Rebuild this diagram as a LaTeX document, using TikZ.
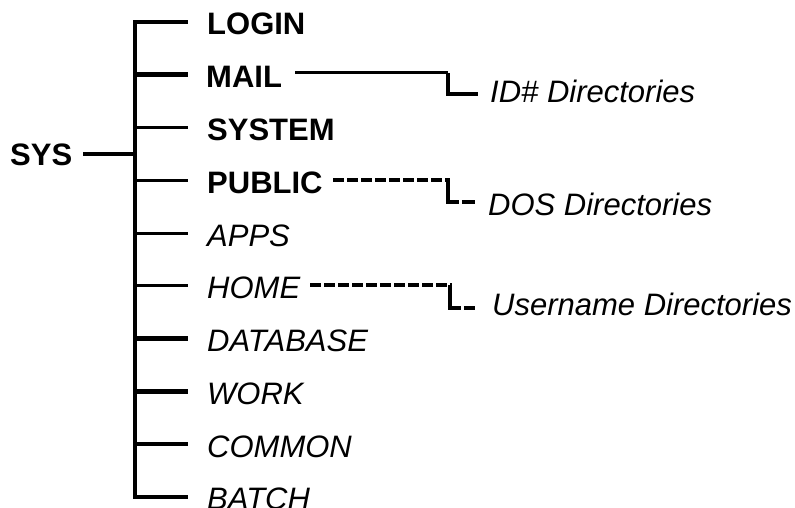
\documentclass[tikz,border=0pt]{standalone}
\usepackage{fontspec}
\setmainfont{Liberation Sans}
\begin{document}
\begin{tikzpicture}[x=1pt,y=-1pt,
  lbl/.style={inner sep=0pt,anchor=base west,font=\fontsize{31}{37}\selectfont},
  boldlbl/.style={lbl,font=\fontsize{31}{37}\selectfont\bfseries},
  itlbl/.style={lbl,font=\fontsize{31}{37}\selectfont\itshape},
  thickline/.style={line width=4.5pt},
  thinline/.style={line width=3pt},
  trunkline/.style={line width=4.5pt,line cap=rect},
  dashline/.style={line width=4pt,dash pattern=on 11pt off 3pt},
  footline/.style={line width=4pt,dash pattern=on 13pt off 3pt},
  elbow/.style={line width=4.5pt}]
\useasboundingbox (0,0) rectangle (795,508);

% root
\node[boldlbl] (sys) at (10,165) {SYS};
\coordinate (sysend) at (83,154);
\coordinate (sysj) at (135,154);

% trunk junctions
\coordinate (j1) at (135,22);
\coordinate (j2) at (135,74.75);
\coordinate (j3) at (135,127.5);
\coordinate (j4) at (135,180.25);
\coordinate (j5) at (135,233);
\coordinate (j6) at (135,285.75);
\coordinate (j7) at (135,338.5);
\coordinate (j8) at (135,391.25);
\coordinate (j9) at (135,444);
\coordinate (j10) at (135,496.75);

% labels
\node[boldlbl] (login)  at (207,35)     {LOGIN};
\node[boldlbl] (mail)   at (206,87.75)  {MAIL};
\node[boldlbl] (system) at (207,140.5)  {SYSTEM};
\node[boldlbl] (public) at (207,193.25) {PUBLIC};
\node[itlbl]   (apps)   at (207,246)    {APPS};
\node[itlbl]   (home)   at (207,298.75) {HOME};
\node[itlbl]   (database) at (207,351.5) {DATABASE};
\node[itlbl]   (work)   at (207,404.25) {WORK};
\node[itlbl]   (common) at (207,457)    {COMMON};
\node[itlbl]   (batch)  at (207,509.75) {BATCH};

% branch ends
\coordinate (e1) at (188,22);
\coordinate (e2) at (188,74.75);
\coordinate (e3) at (188,127.5);
\coordinate (e4) at (188,180.25);
\coordinate (e5) at (188,233);
\coordinate (e6) at (188,285.75);
\coordinate (e7) at (188,338.5);
\coordinate (e8) at (188,391.25);
\coordinate (e9) at (188,444);
\coordinate (e10) at (188,496.75);

% trunk and root link
\draw[trunkline] (j1) -- (j10);
\draw[thickline] (sysend) -- (sysj);

% branches
\draw[thickline] (j1) -- (e1);
\draw[thickline] (j2) -- (e2);
\draw[thinline]  (j3) -- (e3);
\draw[thinline]  (j4) -- (e4);
\draw[thinline]  (j5) -- (e5);
\draw[thinline]  (j6) -- (e6);
\draw[thickline] (j7) -- (e7);
\draw[thickline] (j8) -- (e8);
\draw[thickline] (j9) -- (e9);
\draw[thickline] (j10) -- (e10);

% sub-directory labels
\node[itlbl] (iddir)   at (490,103) {ID\# Directories};
\node[itlbl] (dosdir)  at (488,215) {DOS Directories};
\node[itlbl] (userdir) at (492,315) {Username Directories};

% MAIL connector
\coordinate (ma) at (295,73);
\coordinate (mb) at (448,73);
\coordinate (mc) at (448,94);
\coordinate (md) at (478,94);
\draw[thinline] (ma) -- (mb);
\draw[elbow] (mb) -- (mc) -- (md);

% PUBLIC connector
\coordinate (pa) at (333,180);
\coordinate (pb) at (448,180);
\coordinate (pc) at (448,202);
\coordinate (pd) at (477,202);
\draw[dashline] (pa) -- ([xshift=2pt]pb);
\draw[elbow] (pb) -- (pc);
\draw[footline] ([xshift=-2.25pt]pc) -- (pd);

% HOME connector
\coordinate (ha) at (310,285);
\coordinate (hb) at (450,285);
\coordinate (hc) at (450,308);
\coordinate (hd) at (475,308);
\draw[dashline] (ha) -- ([xshift=2pt]hb);
\draw[elbow] (hb) -- (hc);
\draw[footline] ([xshift=-2.25pt]hc) -- (hd);
\end{tikzpicture}
\end{document}
